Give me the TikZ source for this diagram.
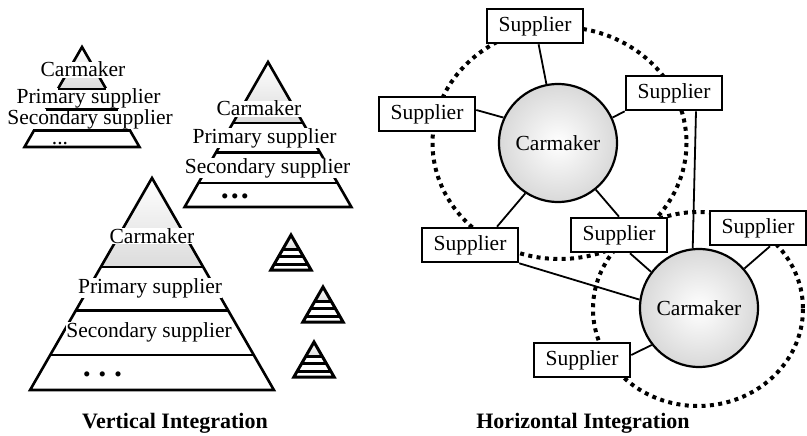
\documentclass[tikz,border=0pt]{standalone}
\usepackage{fontspec}
\setmainfont{Liberation Serif}
\usetikzlibrary{positioning}
\tikzset{
  supplier/.style={
    draw,
    rectangle,
    line width=2.6pt,
    fill=white,
    minimum height=34pt,
    minimum width=96pt,
    inner sep=0pt,
    font=\fontsize{21.5}{24}\selectfont
  },
  carmaker/.style={
    draw,
    circle,
    line width=2.2pt,
    inner color=white,
    outer color=gray!30,
    minimum size=118pt,
    font=\fontsize{21.5}{24}\selectfont
  },
  tier/.style={anchor=base,fill=white,inner sep=0.5pt,font=\fontsize{21.5}{24}\selectfont},
  more/.style={anchor=base,inner sep=0pt,font=\fontsize{21.5}{24}\selectfont},
  heading/.style={anchor=base,font=\fontsize{22}{26}\selectfont\bfseries},
  pyr/.style={line width=2.6pt},
  line/.style={line width=1.8pt},
  ring/.style={line width=4pt,dash pattern=on 4pt off 4.4pt}
}
% apex x, apex y, height
\newcommand{\pyrshape}[3]{%
	\shade[top color=white,bottom color=gray!28] (#1,#2) -- ++({-0.2415*#3},{0.42*#3}) -- ++({0.483*#3},0) -- cycle;
	\draw[pyr] (#1,#2) -- ++({-0.575*#3},#3) -- ++({1.15*#3},0) -- cycle;
}
\newcommand{\pyrtiers}[3]{%
	\foreach \f in {0.42,0.625,0.835}
		\draw[pyr] ({#1-0.575*\f*#3},{#2+\f*#3}) -- ++({1.15*\f*#3},0);
}

\begin{document}
\begin{tikzpicture}[x=1pt,y=-1pt]
	\useasboundingbox (0,0) rectangle (807,436);

	% small pyramid
	\pyrshape{82}{47}{100}
	\node[tier] (small_car) at (83,77) {Carmaker};
	\node[tier] (small_pri) at (88.5,103.3) {Primary supplier};
	\node[tier] (small_sec) at (90,124.2) {Secondary supplier};
	\node[more] (small_etc) at (60,144) {...};
	\pyrtiers{82}{47}{100}

	% medium pyramid
	\pyrshape{268}{62}{145}
	\node[tier] (mid_car) at (259,116) {Carmaker};
	\node[tier] (mid_pri) at (264.5,143) {Primary supplier};
	\node[tier] (mid_sec) at (267.5,173) {Secondary supplier};
	\node[more] (mid_etc) at (235,204) {•\hspace{2.5pt}•\hspace{2.5pt}•};
	\pyrtiers{268}{62}{145}

	% large pyramid
	\pyrshape{152}{178}{212}
	\node[tier] (big_car) at (152,243) {Carmaker};
	\node[tier] (big_pri) at (150,293) {Primary supplier};
	\node[tier] (big_sec) at (149,337) {Secondary supplier};
	\node[more] (big_etc) at (102.5,381) {•\hspace{8pt}•\hspace{8pt}•};
	\pyrtiers{152}{178}{212}

	% tiny ones
	\begin{scope}[pyr/.style={line width=3pt}]
		\foreach \ax/\ay in {291/235,323/287,314/342}{
			\pyrshape{\ax}{\ay}{35}
			\pyrtiers{\ax}{\ay}{35}
		}
	\end{scope}

	\node[heading] (vert_title) at (175,428) {Vertical Integration};

	% rings
	\draw[ring] (559.5,143) ellipse [x radius=127, y radius=116];
	\draw[ring] (698,309) ellipse [x radius=105, y radius=97];

	\node[carmaker] (carmaker_a) at (558,143) {Carmaker};
	\node[carmaker] (carmaker_b) at (699,308) {Carmaker};

	\node[supplier] (top_supplier) at (535,26) {Supplier};
	\node[supplier] (left_supplier) at (427,114) {Supplier};
	\node[supplier] (upper_supplier) at (674,93) {Supplier};
	\node[supplier] (low_left_supplier) at (470,245) {Supplier};
	\node[supplier] (mid_supplier) at (619,235) {Supplier};
	\node[supplier] (right_supplier) at (758,228) {Supplier};
	\node[supplier] (bottom_supplier) at (582,360) {Supplier};

	\draw[line] (top_supplier) -- (carmaker_a);
	\draw[line] ([yshift=4pt]left_supplier.east) -- (carmaker_a.155);
	\draw[line] (upper_supplier.south west) -- (carmaker_a.25);
	\draw[line] (carmaker_a.237) -- ([xshift=27pt]low_left_supplier.north);
	\draw[line] (carmaker_a.-51) -- (mid_supplier.north);

	\draw[line] ([xshift=11pt]mid_supplier.south) -- (carmaker_b.143);
	\draw[line] (low_left_supplier.south east) -- (carmaker_b.172);
	\draw[line] ([xshift=22pt]upper_supplier.south) -- (carmaker_b.96);
	\draw[line] ([xshift=12pt]right_supplier.south) -- (carmaker_b.41);
	\draw[line] ([yshift=5pt]bottom_supplier.east) -- (carmaker_b.218);

	\node[heading] (horiz_title) at (583,428) {Horizontal Integration};

\end{tikzpicture}
\end{document}
